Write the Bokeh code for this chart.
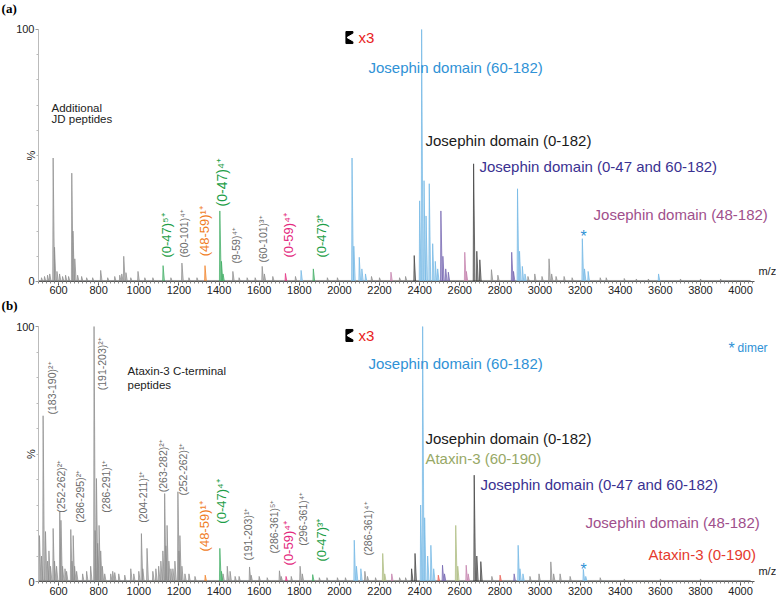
import math
from bokeh.plotting import figure
from bokeh.models import Range1d, Label, FixedTicker, SingleIntervalTicker, ColumnDataSource
from bokeh.layouts import column
from bokeh.embed import file_html
from bokeh.resources import INLINE
from bokeh.core.properties import value

# ------------------------------------------------------------------ data
# peaks as (m/z, relative intensity %)
# panel (a)
a_grey = [(515, 1.5), (530, 2), (545, 2.5), (556, 3), (573, 49), (580, 13.6), (592, 4), (605, 3),
          (620, 2), (635, 2.5), (650, 2), (666, 43), (672, 20), (681, 9), (695, 2.5), (715, 2),
          (740, 1.5), (770, 1.5), (810, 4.4), (845, 1.5), (880, 2), (905, 2.5), (915, 3), (925, 10),
          (936, 3.5), (960, 1.5), (996, 4), (1030, 1.5), (1070, 1.5), (1160, 1.5), (1215, 7.3),
          (1250, 1.5), (1290, 1.5), (1469, 4), (1500, 1.5), (1540, 1.5), (1580, 1.5), (1615, 6),
          (1626, 3), (1668, 2), (1781, 2), (1940, 1.5), (1990, 1.5), (2160, 2), (2200, 1.5),
          (2300, 1.5), (2330, 2), (2758, 4.7), (2790, 2.5), (2940, 2), (2974, 3), (3010, 2),
          (3045, 9), (3058, 3), (3080, 2), (3120, 2), (3160, 1.5), (3300, 1.5), (3330, 1.5),
          (3420, 1.2), (3480, 1), (3540, 1), (3700, 1), (3800, 1), (3900, 1)]
a_black = [(2373, 10.3), (2669, 46.7), (2685, 12), (2700, 8.6)]
a_blue = [(1809, 4.4), (2063, 49), (2072, 14), (2099, 9.6), (2112, 5), (2130, 3), (2400, 32),
          (2410, 100), (2422, 40), (2432, 26), (2448, 38.8), (2465, 15), (2478, 8), (2490, 5),
          (2888, 36.8), (2898, 12), (2912, 6), (2925, 3), (3211, 17), (3222, 5), (3240, 4), (3591, 3)]
a_indigo = [(2506, 28), (2516, 10), (2530, 5), (2543, 3.7), (2859, 11.6), (2868, 4)]
a_magenta = [(2257, 3.7), (2625, 11.6), (2633, 4)]
a_green = [(1121, 6.3), (1404, 28), (1412, 8), (1420, 3), (1870, 5)]
a_orange = [(1330, 6.3)]
a_pink = [(1731, 3.2)]

# panel (b)
b_grey = [(505, 18), (515, 10), (523, 65), (535, 19.6), (545, 8), (552, 12), (560, 6), (573, 20.8),
          (580, 8), (590, 6), (606, 27.4), (612, 24), (620, 6), (632, 5), (640, 4), (661, 20.4),
          (667, 8), (673, 18), (680, 6), (690, 4), (720, 3), (740, 4), (760, 6), (777, 100),
          (782, 20), (789, 40.4), (795, 15), (802, 22), (810, 12), (818, 6), (830, 3), (860, 3),
          (870, 4), (880, 3.5), (900, 3), (930, 2.5), (960, 5), (975, 3), (1000, 4), (1013, 18.8),
          (1020, 5), (1041, 13), (1070, 4), (1085, 5), (1099, 6), (1110, 8), (1120, 12),
          (1129, 34.5), (1135, 14), (1141, 22), (1150, 8), (1160, 5), (1170, 5), (1180, 8),
          (1195, 35.2), (1200, 12), (1205, 18), (1215, 6), (1230, 3), (1250, 3), (1280, 2),
          (1420, 3), (1441, 6), (1455, 4), (1480, 2), (1500, 2), (1552, 5.7), (1560, 2.5),
          (1600, 2), (1640, 1.5), (1701, 4.2), (1710, 2), (1760, 2), (1804, 6), (1815, 3),
          (1900, 1.5), (1938, 1.5), (1990, 1.5), (2030, 1.5), (2127, 4), (2140, 2), (2180, 1.5),
          (2300, 1.5), (2330, 1.5), (2760, 2), (2950, 2), (2995, 3), (3054, 7.7), (3068, 3),
          (3100, 3), (3150, 2), (3300, 1.5), (3420, 1), (3600, 1), (3800, 1)]
b_black = [(2360, 5), (2377, 11), (2672, 41.7), (2685, 10), (2705, 7.8)]
b_blue = [(2074, 16.2), (2085, 6), (2107, 5), (2405, 30), (2415, 100), (2425, 25), (2440, 10),
          (2456, 14.2), (2470, 5), (2891, 14.2), (2900, 5), (2915, 3), (3216, 4.8), (3228, 2)]
b_olive = [(2216, 11), (2226, 3), (2580, 22), (2590, 6)]
b_magenta = [(2261, 3), (2632, 6.4), (2642, 3)]
b_red = [(2493, 2.5), (2801, 2.5)]
b_indigo = [(2514, 6.4), (2524, 3), (2871, 3)]
b_orange = [(1331, 2.5)]
b_green = [(1404, 13), (1412, 4), (1867, 2.7)]
b_pink = [(1734, 2)]

# peptide labels (text, m/z, intensity at label foot, colour group)
a_peptides = [("(0-47)⁵⁺", 1140, 9.5, "green"), ("(60-101)⁴⁺", 1225, 9.5, "grey"),
              ("(48-59)¹⁺", 1330, 10, "orange"), ("(0-47)⁴⁺", 1415, 29.8, "green"),
              ("(9-59)⁴⁺", 1485, 7.1, "grey"), ("(60-101)³⁺", 1620, 7.5, "grey"),
              ("(0-59)⁴⁺", 1745, 9.5, "pink"), ("(0-47)³⁺", 1910, 9.5, "green")]
b_peptides = [("(183-190)²⁺", 565, 65.5, "grey"), ("(252-262)²⁺", 614, 27, "grey"),
              ("(286-295)²⁺", 705, 23, "grey"), ("(191-203)²⁺", 815, 75, "grey"),
              ("(286-291)¹⁺", 835, 27, "grey"), ("(204-211)¹⁺", 1019, 23, "grey"),
              ("(263-282)²⁺", 1119, 35, "grey"), ("(252-262)¹⁺", 1219, 33.7, "grey"),
              ("(48-59)¹⁺", 1326, 11.8, "orange"), ("(0-47)⁴⁺", 1412, 22.7, "green"),
              ("(191-203)¹⁺", 1545, 8.2, "grey"), ("(286-361)⁵⁺", 1675, 11, "grey"),
              ("(0-59)⁴⁺", 1745, 6.3, "pink"), ("(296-361)⁴⁺", 1820, 14, "grey"),
              ("(0-47)³⁺", 1910, 7.8, "green"), ("(286-361)⁴⁺", 2145, 10.2, "grey")]

# species labels (text, m/z, intensity, colour group)
a_species = [("Josephin domain (60-182)", 2145, 85, "blue"),
             ("Josephin domain (0-182)", 2429, 56, "black"),
             ("Josephin domain (0-47 and 60-182)", 2698, 45.6, "indigo"),
             ("Josephin domain (48-182)", 3267, 26.6, "magenta")]
b_species = [("Josephin domain (60-182)", 2145, 85.5, "blue"),
             ("Josephin domain (0-182)", 2429, 56, "black"),
             ("Ataxin-3 (60-190)", 2429, 48.2, "olive"),
             ("Josephin domain (0-47 and 60-182)", 2703, 38, "indigo"),
             ("Josephin domain (48-182)", 3227, 23.1, "magenta"),
             ("Ataxin-3 (0-190)", 3541, 10.6, "red")]

MZ_START, MZ_END = 500, 4070   # extent of the m/z axis
x_ticks_step = 200

# ------------------------------------------------------------------ styles
FONT = "Liberation Sans"
W = 776
PEAK = {"grey": "#8a8a8a", "black": "#3a3a3a", "blue": "#6db4e4", "indigo": "#6e5fae",
        "magenta": "#c27ba9", "green": "#3aaa5e", "orange": "#f07d1f", "pink": "#e3287d",
        "olive": "#a9b97a", "red": "#e8574c"}
TEXT = {"grey": "#6b6b6b", "black": "#1a1a1a", "blue": "#2f92d6", "indigo": "#3a3191",
        "magenta": "#a04f8c", "green": "#1e9e48", "orange": "#f07d1f", "pink": "#e3287d",
        "olive": "#97a866", "red": "#e53a2e"}


def draw_peaks(p, peaks, group):
    xs = [[m - 2, m, m + 7] for m, h in peaks]
    ys = [[0, h, 0] for m, h in peaks]
    c = PEAK[group]
    p.patches(xs, ys, fill_color=c, fill_alpha=0.45, line_color=c, line_width=0.7)


def add_label(p, text, x, y, color, size, align="left", baseline="middle", angle=0,
              font=FONT, style="normal"):
    p.add_layout(Label(x=x, y=y, text=text, text_color=color, text_font_size=size,
                       text_align=align, text_baseline=baseline, angle=angle,
                       text_font=font, text_font_style=style))


def make_panel(height, y_lo, y_hi, panel_letter, series, peptides, species, note, star_y,
               x3_y, big_green=False):
    p = figure(width=W, height=height, output_backend="svg", toolbar_location=None,
               x_range=Range1d(310.6, 4179), y_range=Range1d(y_lo, y_hi), min_border=0)
    p.outline_line_color = None
    p.grid.visible = False
    p.background_fill_color = "white"

    xa = p.xaxis[0]
    xa.fixed_location = 0
    xa.bounds = (MZ_START, MZ_END)
    xa.ticker = SingleIntervalTicker(interval=x_ticks_step, num_minor_ticks=10)
    xa.axis_line_color = "#555555"
    xa.major_tick_line_color = "#555555"
    xa.minor_tick_line_color = "#888888"
    xa.major_tick_out = 4
    xa.major_tick_in = 0
    xa.minor_tick_out = 2
    xa.minor_tick_in = 0
    xa.major_label_text_font = FONT
    xa.major_label_text_font_size = "11px"
    xa.major_label_text_color = "#222222"
    xa.major_label_standoff = 1

    ya = p.yaxis[0]
    ya.fixed_location = MZ_START
    ya.bounds = (0, 100)
    ya.ticker = FixedTicker(ticks=[0, 100], minor_ticks=[10, 20, 30, 40, 50, 60, 70, 80, 90])
    ya.axis_line_color = "#bbbbbb"
    ya.major_tick_line_color = "#999999"
    ya.minor_tick_line_color = "#bbbbbb"
    ya.major_tick_out = 3
    ya.major_tick_in = 0
    ya.minor_tick_out = 2
    ya.minor_tick_in = 0
    ya.major_label_text_font = FONT
    ya.major_label_text_font_size = "11px"
    ya.major_label_text_color = "#222222"
    ya.major_label_standoff = 1

    # spectrum baseline over the m/z axis extent
    p.segment(x0=[MZ_START], y0=[0.4], x1=[MZ_END - 20], y1=[0.4], line_color="#9a9a9a",
              line_width=1)
    for group, peaks in series:
        draw_peaks(p, peaks, group)

    # rotated peptide labels
    src = ColumnDataSource(dict(
        x=[t[1] for t in peptides], y=[t[2] for t in peptides], text=[t[0] for t in peptides],
        color=[TEXT[t[3]] for t in peptides],
        size=[("10.5px" if t[3] == "grey" else
               ("14px" if (big_green and t[0] == "(0-47)⁴⁺") else "13px")) for t in peptides]))
    p.text(x="x", y="y", text="text", source=src, angle=math.pi / 2, text_align="left",
           text_baseline="middle", text_color="color", text_font_size="size",
           text_font=value(FONT))

    for text, x, y, g in species:
        add_label(p, text, x, y, TEXT[g], "15px")

    # "x3" marker
    p.rect(x=[2050], y=[x3_y], width=7, height=12, width_units="screen", height_units="screen",
           color="black")
    p.scatter(x=[2064], y=[x3_y], marker="triangle", size=9, angle=math.pi / 2,
              color="white")
    add_label(p, "x3", 2095, x3_y, "#e8231c", "15px")

    # dimer star
    add_label(p, "*", 3217, star_y, TEXT["blue"], "16px", align="center")

    # notes
    add_label(p, note[0][0], note[0][1], note[0][2], "#222222", "11.5px")
    add_label(p, note[1][0], note[1][1], note[1][2], "#222222", "11.5px")

    add_label(p, "%", 463, 50, "#222222", "11px", align="center", angle=math.pi / 2)
    add_label(p, "m/z", 4089, 4.2, "#222222", "11px")
    add_label(p, panel_letter, 316, 108.3, "#000000", "13px", font="Liberation Serif",
              style="bold")
    return p


pa = make_panel(298, -6.75, 111.5, "(a)",
                [("grey", a_grey), ("black", a_black), ("magenta", a_magenta),
                 ("indigo", a_indigo), ("blue", a_blue), ("green", a_green),
                 ("orange", a_orange), ("pink", a_pink)],
                a_peptides, a_species,
                [("Additional", 565, 69), ("JD peptides", 565, 64.3)],
                star_y=18, x3_y=96.8, big_green=True)

pb = make_panel(301, -7.06, 111.0, "(b)",
                [("grey", b_grey), ("black", b_black), ("olive", b_olive),
                 ("magenta", b_magenta), ("red", b_red), ("indigo", b_indigo),
                 ("blue", b_blue), ("green", b_green), ("orange", b_orange), ("pink", b_pink)],
                b_peptides, b_species,
                [("Ataxin-3 C-terminal", 944, 82.4), ("peptides", 944, 76.9)],
                star_y=4.8, x3_y=96.5)
add_label(pb, "*", 3955, 91.5, TEXT["blue"], "16px", align="center")
add_label(pb, "dimer", 3985, 91.4, TEXT["blue"], "12px")

layout = column(pa, pb, spacing=0)
open("out.html", "w").write(file_html(layout, INLINE))
